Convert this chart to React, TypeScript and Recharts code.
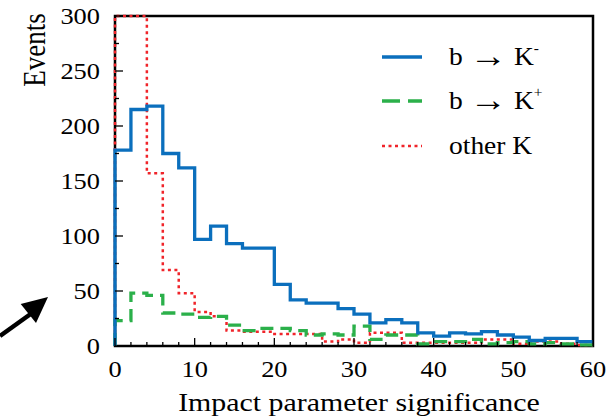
import React from 'react';
import { LineChart, Line, XAxis, YAxis } from 'recharts';

// Histogram bins (lower edges), width 2
const binStart = [0, 2, 4, 6, 8, 10, 12, 14, 16, 18, 20, 22, 24, 26, 28, 30, 32, 34, 36, 38, 40, 42, 44, 46, 48, 50, 52, 54, 56, 58];
const blueCounts = [178, 215, 218, 175, 162, 97, 109, 93, 89, 89, 56, 42, 39, 39, 34, 29, 21, 24, 21, 12, 9, 12, 11, 13, 10, 8, 5, 7, 7, 4];
const greenCounts = [23, 48, 46, 30, 29, 26, 27, 19, 14, 16, 16, 14, 10, 11, 10, 18, 6, 10, 10, 2, 4, 4, 6, 2, 3, 4, 2, 3, 2, 1];
const redCounts = [300, 300, 157, 69, 48, 31, 27, 14, 13, 13, 11, 11, 11, 4, 6, 3, 12, 12, 3, 3, 3, 3, 3, 6, 6, 2, 4, 4, 2, 1];
const xEnd = 60;
const xTicks = [0, 2, 4, 6, 8, 10, 12, 14, 16, 18, 20, 22, 24, 26, 28, 30, 32, 34, 36, 38, 40, 42, 44, 46, 48, 50, 52, 54, 56, 58, 60];
const yTicks = [0, 25, 50, 75, 100, 125, 150, 175, 200, 225, 250, 275, 300];
const seriesNames = ['b \u2192 K', 'b \u2192 K', 'other K'];
const seriesSup = ['-', '+', ''];
const xTitle = 'Impact parameter significance';
const yTitle = 'Events';

const FONT = '"Liberation Serif", "Times New Roman", serif';
const BLUE = '#0B6FBD';
const GREEN = '#2BB04A';
const RED = '#F0242A';
const W = 611;
const H = 416;
const PL = 115;
const PR = 593;
const PT = 16;
const PB = 346;

const rows = [
  { x: 0, blue: 0, green: 0, red: 0 },
  ...binStart.map((x, i) => ({ x, blue: blueCounts[i], green: greenCounts[i], red: redCounts[i] })),
  { x: xEnd, blue: blueCounts[blueCounts.length - 1], green: greenCounts[greenCounts.length - 1], red: redCounts[redCounts.length - 1] },
];

function XTick(props: any) {
  const { x, y, payload } = props;
  const v = payload.value;
  const major = v % 10 === 0;
  return (
    <g>
      <line x1={x} x2={x} y1={y} y2={y - (major ? 8 : 4)} stroke="#000" strokeWidth={1.3} />
      {major && (
        <text transform={`translate(${x},${y + 31}) scale(1.1,1)`} textAnchor="middle" fontFamily={FONT} fontSize={24} fill="#000">
          {v}
        </text>
      )}
    </g>
  );
}

function YTick(props: any) {
  const { x, y, payload } = props;
  const v = payload.value;
  const major = v % 50 === 0;
  return (
    <g>
      <line x1={x} x2={x + (major ? 8 : 4)} y1={y} y2={y} stroke="#000" strokeWidth={1.3} />
      {major && (
        <text transform={`translate(${x - 15},${y}) scale(1.1,1)`} textAnchor="end" dy="0.35em" fontFamily={FONT} fontSize={24} fill="#000">
          {v}
        </text>
      )}
    </g>
  );
}

const legendY = [57, 101, 146];
const legendColors = [BLUE, GREEN, RED];
const legendDash = [undefined, '18 8', '3 3.5'];
const legendWidth = [3.5, 3.5, 2.5];

function LegendLabel({ name, sup }: { name: string; sup: string }) {
  const parts = name.split('\u2192');
  if (parts.length === 1) {
    return <>{name}</>;
  }
  return (
    <>
      {parts[0]}
      <tspan fontSize={34} dy={2}>{'\u2192'}</tspan>
      <tspan dy={-2}>{parts[1]}</tspan>
      {sup && <tspan fontSize={14} dy={-12}>{sup}</tspan>}
    </>
  );
}

export default function App() {
  return (
    <div style={{ position: 'absolute', left: 0, top: 0, width: W, height: H, background: '#fff' }}>
      <svg width={W} height={H} style={{ position: 'absolute', left: 0, top: 0 }}>
        <rect x={PL} y={PT} width={PR - PL} height={PB - PT} fill="none" stroke="#000" strokeWidth={2.5} />
        <text transform={`translate(359,411) scale(1.15,1)`} textAnchor="middle" fontFamily={FONT} fontSize={26} fill="#000">
          {xTitle}
        </text>
        <text transform={`translate(45,50) rotate(-90) scale(1,1.15)`} textAnchor="middle" fontFamily={FONT} fontSize={27} fill="#000">
          {yTitle}
        </text>
        <line x1={0} y1={336} x2={32} y2={313} stroke="#000" strokeWidth={4.5} />
        <polygon points="48,297 20.7,304 36,323" fill="#000" />
        {seriesNames.map((name, i) => (
          <g key={i}>
            <line x1={382} x2={422} y1={legendY[i]} y2={legendY[i]} stroke={legendColors[i]} strokeWidth={legendWidth[i]} strokeDasharray={legendDash[i]} />
            <text transform={`translate(449,${legendY[i] + 8}) scale(1.1,1)`} fontFamily={FONT} fontSize={25} fill="#000">
              <LegendLabel name={name} sup={seriesSup[i]} />
            </text>
          </g>
        ))}
      </svg>
      <div style={{ position: 'absolute', left: 0, top: 0 }}>
        <LineChart width={W} height={H} data={rows} margin={{ top: PT, right: W - PR, bottom: 0, left: 0 }}>
          <XAxis
            dataKey="x"
            type="number"
            domain={[0, xEnd]}
            ticks={xTicks}
            interval={0}
            height={H - PB}
            axisLine={false}
            tickLine={false}
            tickSize={0}
            tickMargin={0}
            tick={XTick}
          />
          <YAxis
            type="number"
            domain={[0, 300]}
            ticks={yTicks}
            interval={0}
            width={PL}
            axisLine={false}
            tickLine={false}
            tickSize={0}
            tickMargin={0}
            tick={YTick}
          />
          <Line dataKey="red" type="stepAfter" stroke={RED} strokeWidth={2.5} strokeDasharray="3 3.5" dot={false} isAnimationActive={false} />
          <Line dataKey="green" type="stepAfter" stroke={GREEN} strokeWidth={3.3} strokeDasharray="13 7" dot={false} isAnimationActive={false} />
          <Line dataKey="blue" type="stepAfter" stroke={BLUE} strokeWidth={3.3} dot={false} isAnimationActive={false} />
        </LineChart>
      </div>
    </div>
  );
}
